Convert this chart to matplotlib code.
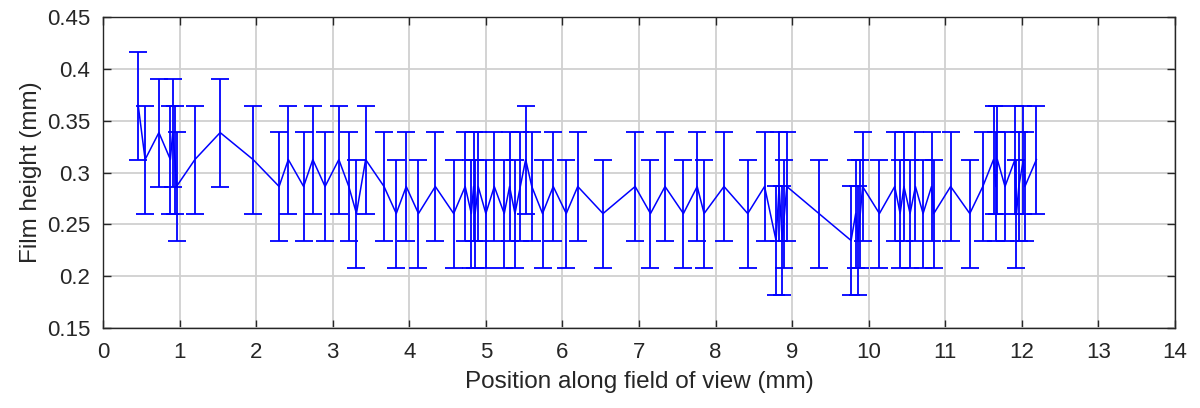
import matplotlib
matplotlib.use("Agg")
import matplotlib.pyplot as plt

# positions along the field of view (mm) and film heights (mm)
position = [
    0.46, 0.55, 0.73, 0.88, 0.91, 0.94, 0.96, 1.20, 1.53, 1.96,
    2.30, 2.42, 2.62, 2.74, 2.90, 3.08, 3.21, 3.31, 3.43, 3.67,
    3.83, 3.96, 4.12, 4.34, 4.58, 4.73, 4.81, 4.84, 4.86, 4.90,
    5.00, 5.11, 5.24, 5.31, 5.38, 5.45, 5.52, 5.60, 5.74, 5.88,
    6.05, 6.20, 6.53, 6.95, 7.15, 7.34, 7.58, 7.76, 7.85, 8.11,
    8.42, 8.64, 8.79, 8.83, 8.87, 8.90, 8.93, 9.35, 9.77, 9.83,
    9.86, 9.89, 9.92, 10.14, 10.34, 10.41, 10.46, 10.54, 10.61, 10.71,
    10.82, 10.85, 11.07, 11.32, 11.49, 11.63, 11.66, 11.68, 11.78, 11.91,
    11.93, 11.96, 12.02, 12.04, 12.19,
]
film_height = [
    0.3646, 0.3125, 0.3385, 0.3125, 0.3385, 0.3125, 0.2865, 0.3125, 0.3385, 0.3125,
    0.2865, 0.3125, 0.2865, 0.3125, 0.2865, 0.3125, 0.2865, 0.2604, 0.3125, 0.2865,
    0.2604, 0.2865, 0.2604, 0.2865, 0.2604, 0.2865, 0.2604, 0.2865, 0.2604, 0.2865,
    0.2604, 0.2865, 0.2604, 0.2865, 0.2604, 0.2865, 0.3125, 0.2865, 0.2604, 0.2865,
    0.2604, 0.2865, 0.2604, 0.2865, 0.2604, 0.2865, 0.2604, 0.2865, 0.2604, 0.2865,
    0.2604, 0.2865, 0.2344, 0.2865, 0.2344, 0.2604, 0.2865, 0.2604, 0.2344, 0.2604,
    0.2344, 0.2604, 0.2865, 0.2604, 0.2865, 0.2604, 0.2865, 0.2604, 0.2865, 0.2604,
    0.2865, 0.2604, 0.2865, 0.2604, 0.2865, 0.3125, 0.2865, 0.3125, 0.2865, 0.3125,
    0.2604, 0.2865, 0.3125, 0.2865, 0.3125,
]
height_error = 0.0521

x_ticks = list(range(0, 15))
y_ticks = [0.15, 0.2, 0.25, 0.3, 0.35, 0.4, 0.45]
y_tick_labels = ["0.15", "0.2", "0.25", "0.3", "0.35", "0.4", "0.45"]

plt.rcParams["font.family"] = ["Liberation Sans", "DejaVu Sans"]

fig = plt.figure(figsize=(12, 4.08), dpi=100)
ax = fig.add_axes([103 / 1200, 80 / 408, 1072 / 1200, 311 / 408])

ax.errorbar(position, film_height, yerr=height_error, color="#0000ff",
            lw=1.1, elinewidth=1.3, capsize=6.5, capthick=1.3, zorder=3)

ax.set_xlim(0, 14)
ax.set_ylim(0.15, 0.45)
ax.set_xticks(x_ticks)
ax.set_yticks(y_ticks)
ax.set_yticklabels(y_tick_labels)
ax.grid(True, color="#d0d0d0", lw=1.3, zorder=0)
ax.set_axisbelow(True)

for spine in ax.spines.values():
    spine.set_color("#262626")
    spine.set_linewidth(1.0)
ax.tick_params(direction="in", length=6, width=1.0, color="#262626",
               labelcolor="#262626", labelsize=16, top=True, right=True)
ax.tick_params(axis="x", pad=10)
ax.tick_params(axis="y", pad=9)

ax.set_xlabel("Position along field of view (mm)", fontsize=17.5,
              color="#262626", labelpad=6)
ax.set_ylabel("Film height (mm)", fontsize=17.5, color="#262626", labelpad=4)

fig.savefig("out.png", dpi=100)
plt.close(fig)
